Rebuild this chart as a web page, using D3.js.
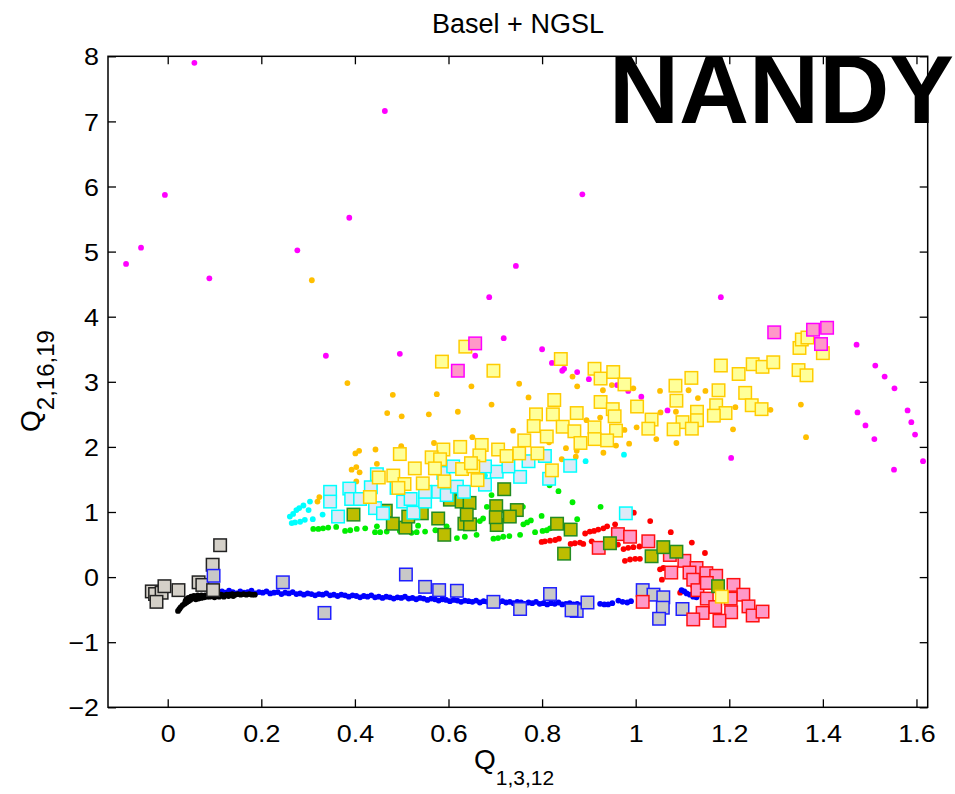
<!DOCTYPE html>
<html>
<head>
<meta charset="utf-8">
<script src="https://cdn.jsdelivr.net/npm/d3@7/dist/d3.min.js"></script>
<style>
  body { margin: 0; background: #fff; }
  text { font-family: "Liberation Sans", Arial, Helvetica, sans-serif; fill: #000; }
</style>
</head>
<body>
<svg id="chart" width="955" height="794"></svg>
<script>
// ---- axis limits and ticks ----
const xLimits = [-0.1276, 1.624];
const yLimits = [-2, 8];
const xTicks = [0, 0.2, 0.4, 0.6, 0.8, 1, 1.2, 1.4, 1.6];
const yTicks = [-2, -1, 0, 1, 2, 3, 4, 5, 6, 7, 8];
const titleText = "Basel + NGSL";
const stampText = "NANDY";

// ---- small dots ----
const magentaDots = [
  [0.057,7.90],[-0.089,4.81],[-0.057,5.06],[-0.006,5.87],[0.089,4.59],[0.277,5.02],[0.388,5.52],
  [0.464,7.16],[0.338,3.40],[0.496,3.43],[0.657,3.40],[0.886,5.88],[0.744,4.78],[0.687,4.30],
  [1.182,4.30],[0.718,3.67],[0.800,3.50],[0.821,3.29],[0.843,3.17],[0.847,3.20],[0.875,3.15],
  [0.900,3.04],[0.960,2.95],[0.984,2.86],[1.012,2.77],[1.068,2.56],[1.204,1.83],[1.472,3.57],
  [1.512,3.25],[1.532,3.08],[1.553,2.90],[1.474,2.53],[1.491,2.33],[1.510,2.12],[1.581,2.56],
  [1.589,2.38],[1.597,2.19],[1.552,1.65],[1.614,1.78]
];
const orangeDots = [
  [0.308,4.56],[0.384,2.98],[0.481,2.80],[0.575,2.81],[0.649,2.93],[0.751,2.97],[0.771,2.76],
  [0.692,2.65],[0.620,2.54],[0.558,2.50],[0.500,2.47],[0.469,2.52],[0.865,3.08],[0.875,2.93],
  [0.930,2.87],[0.949,2.95],[0.995,2.90],[1.052,2.86],[1.113,2.87],[1.133,2.75],[1.149,2.86],
  [1.213,2.61],[1.208,2.27],[1.288,2.57],[1.353,2.65],[1.364,2.15],[1.087,2.06],[1.044,2.12],
  [0.986,2.05],[0.931,1.91],[0.958,2.02],[0.851,1.98],[1.053,2.53],[1.086,2.54],[1.002,2.30],
  [0.976,2.26],[0.842,1.81],[0.738,2.25],[0.895,2.41],[0.924,2.45],[0.651,2.15],[0.569,2.06],
  [0.499,2.01],[0.444,1.96],[0.401,1.90],[0.409,1.94],[0.393,1.65],[0.403,1.69],[0.410,1.61],
  [0.447,1.74],[0.403,1.47],[0.324,1.23],[0.320,1.16],[0.815,2.07],[0.874,1.94],[0.872,1.85]
];
const cyanDots = [
  [0.261,0.93],[0.268,0.97],[0.275,1.03],[0.281,1.06],[0.290,1.10],[0.304,1.16],[0.301,1.03],
  [0.293,0.88],[0.283,0.85],[0.272,0.84],[0.265,0.83],[0.310,0.89],[0.331,0.96],[0.893,1.78],
  [0.975,1.88],[0.678,1.56]
];
const greenDots = [
  [0.311,0.74],[0.322,0.74],[0.332,0.75],[0.343,0.76],[0.360,0.77],[0.379,0.71],[0.390,0.72],
  [0.404,0.74],[0.422,0.75],[0.443,0.69],[0.454,0.69],[0.468,0.70],[0.447,0.78],[0.521,0.68],
  [0.532,0.69],[0.550,0.70],[0.535,0.79],[0.572,0.72],[0.596,0.78],[0.618,0.60],[0.635,0.62],
  [0.660,0.65],[0.667,0.86],[0.682,1.08],[0.692,1.26],[0.696,0.59],[0.706,0.60],[0.717,0.62],
  [0.730,0.63],[0.753,0.65],[0.760,0.81],[0.768,0.84],[0.776,0.87],[0.799,0.94],[0.785,0.69],
  [0.801,0.71],[0.810,0.72],[0.817,0.75],[0.835,1.32],[0.816,1.41],[0.865,1.15],[0.875,0.89],
  [0.925,1.08],[0.759,1.08],[0.674,0.90],[0.698,0.88],[0.496,0.71],[0.582,0.70]
];
const redDots = [
  [0.799,0.54],[0.806,0.55],[0.817,0.56],[0.828,0.57],[0.836,0.59],[0.861,0.51],[0.870,0.52],
  [0.881,0.53],[0.888,0.51],[0.906,0.55],[0.892,0.67],[0.902,0.70],[0.911,0.71],[0.920,0.73],
  [0.931,0.75],[0.939,0.78],[0.956,0.81],[0.996,0.99],[1.031,0.86],[1.075,0.69],[1.120,0.53],
  [1.148,0.37],[0.962,0.50],[0.974,0.43],[0.984,0.45],[0.995,0.46],[1.008,0.47],[0.977,0.25],
  [0.988,0.27],[0.999,0.28],[1.009,0.28],[1.052,0.12],[1.059,0.14],[1.123,-0.14],[1.144,-0.03],
  [1.095,-0.24],[1.056,-0.04]
];
const blueDots = [
  [0.116,-0.22],[0.123,-0.24],[0.131,-0.21],[0.139,-0.23],[0.147,-0.25],[0.155,-0.22],[0.163,-0.24],
  [0.171,-0.23],[0.179,-0.21],[0.187,-0.25],[0.195,-0.23],[0.203,-0.24],[0.211,-0.22],[0.219,-0.25],
  [0.227,-0.24],[0.235,-0.23],[0.243,-0.26],[0.251,-0.24],[0.259,-0.25],[0.267,-0.23],[0.275,-0.26],
  [0.283,-0.25],[0.291,-0.27],[0.299,-0.25],[0.307,-0.26],[0.315,-0.28],[0.323,-0.26],[0.331,-0.27],
  [0.339,-0.25],[0.347,-0.28],[0.355,-0.27],[0.363,-0.29],[0.371,-0.27],[0.379,-0.28],[0.387,-0.30],
  [0.395,-0.28],[0.403,-0.29],[0.411,-0.31],[0.419,-0.29],[0.427,-0.30],[0.435,-0.28],[0.443,-0.31],
  [0.451,-0.30],[0.459,-0.32],[0.467,-0.30],[0.475,-0.31],[0.483,-0.33],[0.491,-0.31],[0.499,-0.32],
  [0.507,-0.30],[0.515,-0.33],[0.523,-0.32],[0.531,-0.34],[0.539,-0.32],[0.547,-0.33],[0.555,-0.35],
  [0.563,-0.33],[0.571,-0.34],[0.579,-0.36],[0.587,-0.34],[0.595,-0.35],[0.603,-0.37],[0.611,-0.35],
  [0.619,-0.36],[0.627,-0.38],[0.635,-0.36],[0.643,-0.37],[0.651,-0.38],[0.659,-0.36],[0.667,-0.39],
  [0.675,-0.37],[0.683,-0.38],[0.691,-0.40],[0.699,-0.38],[0.707,-0.39],[0.715,-0.37],[0.723,-0.39],
  [0.731,-0.38],[0.739,-0.40],[0.747,-0.38],[0.755,-0.39],[0.763,-0.41],[0.771,-0.39],[0.779,-0.40],
  [0.787,-0.38],[0.795,-0.41],[0.803,-0.40],[0.811,-0.42],[0.819,-0.40],[0.827,-0.41],[0.835,-0.39],
  [0.843,-0.42],[0.851,-0.41],[0.859,-0.40],[0.867,-0.42],[0.875,-0.41],[0.883,-0.43],[0.891,-0.41],
  [0.899,-0.42],[0.924,-0.41],[0.933,-0.42],[0.941,-0.42],[0.950,-0.40],[0.963,-0.36],[0.972,-0.38],
  [0.982,-0.39],[0.990,-0.37],[1.098,-0.20],[1.104,-0.22],[1.109,-0.25],[1.116,-0.27],[1.123,-0.30],
  [1.130,-0.31]
];
const blackDots = [
  [0.022,-0.52],[0.025,-0.49],[0.028,-0.46],[0.032,-0.43],[0.036,-0.41],[0.040,-0.39],[0.044,-0.37],
  [0.048,-0.35],[0.052,-0.33],[0.044,-0.32],[0.040,-0.34],[0.038,-0.37],[0.050,-0.30],[0.056,-0.29],
  [0.060,-0.34],[0.066,-0.33],[0.072,-0.32],[0.078,-0.31],[0.084,-0.30],[0.090,-0.30],[0.064,-0.28],
  [0.072,-0.28],[0.080,-0.28],[0.096,-0.29],[0.102,-0.28],[0.108,-0.28],[0.114,-0.27],[0.120,-0.28],
  [0.126,-0.27],[0.132,-0.27],[0.138,-0.26],[0.144,-0.27],[0.150,-0.26],[0.156,-0.27],[0.162,-0.26],
  [0.168,-0.27],[0.174,-0.26],[0.180,-0.27],[0.186,-0.27],[0.100,-0.31],[0.110,-0.30],[0.120,-0.30],
  [0.130,-0.29],[0.140,-0.29]
];

// ---- square markers ----
const greySquaresBlackEdge = [
  [0.112,0.49],[0.096,0.19],[0.066,-0.08],[0.074,-0.12],[0.097,-0.20],[-0.034,-0.22],[-0.027,-0.26],
  [-0.013,-0.24],[-0.007,-0.14],[0.023,-0.20],[-0.024,-0.38]
];
const greySquaresBlueEdge = [
  [0.098,0.02],[0.246,-0.08],[0.335,-0.55],[0.509,0.04],[0.550,-0.15],[0.580,-0.20],[0.618,-0.21],
  [0.696,-0.38],[0.753,-0.49],[0.817,-0.26],[0.874,-0.52],[0.897,-0.39],[0.863,-0.51],[1.015,-0.20],
  [1.038,-0.27],[1.059,-0.31],[1.058,-0.47],[1.050,-0.64],[1.100,-0.49]
];
const pinkSquaresRedEdge = [
  [0.921,0.45],[0.962,0.66],[0.988,0.62],[1.027,0.55],[1.073,0.34],[1.104,0.25],[1.130,0.14],
  [1.076,0.07],[1.115,0.07],[1.151,0.06],[1.172,0.02],[1.123,-0.04],[1.132,-0.20],[1.209,-0.12],
  [1.230,-0.27],[1.152,-0.33],[1.170,-0.46],[1.203,-0.33],[1.204,-0.54],[1.143,-0.55],[1.123,-0.65],
  [1.179,-0.67],[1.241,-0.45],[1.250,-0.59],[1.271,-0.53],[1.015,-0.38],[1.152,-0.09]
];
const oliveSquares = [
  [0.397,0.96],[0.481,0.82],[0.508,0.76],[0.543,0.98],[0.466,1.02],[0.514,0.93],[0.578,0.90],
  [0.591,0.65],[0.603,1.19],[0.628,1.16],[0.645,1.14],[0.634,0.82],[0.646,0.81],[0.639,0.96],
  [0.703,0.80],[0.702,1.09],[0.719,1.35],[0.746,1.03],[0.832,0.82],[0.861,0.73],[0.847,0.36],
  [0.945,0.52],[1.034,0.32],[1.059,0.46],[1.087,0.39],[1.176,-0.14],[0.701,0.92],[0.731,0.93]
];
const cyanSquares = [
  [0.347,1.31],[0.347,1.16],[0.364,0.93],[0.388,1.36],[0.392,1.20],[0.411,1.20],[0.447,1.58],
  [0.434,1.38],[0.443,1.06],[0.460,0.98],[0.489,1.37],[0.503,1.16],[0.519,1.20],[0.525,0.99],
  [0.550,1.16],[0.550,1.31],[0.578,1.31],[0.596,1.26],[0.618,1.39],[0.633,1.31],[0.589,1.60],
  [0.610,1.70],[0.678,1.42],[0.703,1.62],[0.678,1.70],[0.753,1.54],[0.815,1.51],[0.860,1.71],
  [0.771,1.78],[0.806,1.86],[0.728,1.70],[0.979,0.98]
];
const yellowSquares = [
  [0.586,3.31],[0.636,3.54],[0.696,3.17],[0.840,3.35],[0.912,3.20],[0.925,3.05],[0.952,3.15],
  [0.976,2.96],[1.085,2.94],[1.119,3.06],[1.087,2.71],[1.182,3.25],[1.220,3.12],[1.250,3.27],
  [1.271,3.23],[1.294,3.30],[1.177,2.87],[1.234,2.83],[1.248,2.64],[1.269,2.58],[1.172,2.64],
  [1.192,2.52],[1.167,2.48],[1.131,2.54],[1.131,2.41],[1.100,2.38],[1.081,2.27],[1.120,2.28],
  [1.034,2.42],[1.027,2.28],[1.348,3.18],[1.365,3.10],[1.350,3.52],[1.355,3.65],[1.367,3.68],
  [1.400,3.44],[0.826,2.72],[0.787,2.50],[0.823,2.50],[0.874,2.52],[0.925,2.69],[0.951,2.58],
  [0.955,2.47],[1.003,2.62],[0.782,2.32],[0.844,2.31],[0.869,2.24],[0.912,2.30],[0.958,2.25],
  [0.762,2.10],[0.810,2.16],[0.882,2.06],[0.912,2.12],[0.939,2.10],[0.706,1.96],[0.671,2.03],
  [0.751,1.90],[0.790,1.90],[0.724,1.86],[0.666,1.87],[0.821,1.64],[0.625,2.00],[0.589,1.96],
  [0.496,1.89],[0.564,1.84],[0.582,1.81],[0.528,1.67],[0.571,1.67],[0.629,1.66],[0.653,1.70],
  [0.451,1.53],[0.482,1.56],[0.506,1.43],[0.493,1.37],[0.432,1.23],[0.545,1.44],[0.591,1.47],
  [0.662,1.49],[0.648,1.75]
];
const pinkSquaresMagentaEdge = [
  [0.620,3.17],[0.657,3.59],[1.296,3.76],[1.379,3.80],[1.409,3.83],[1.396,3.58]
];
const yellowSquareLone = [[1.184,-0.30]];

// ---- layout ----
const svg = d3.select("#chart");
const plot = { left: 108, right: 927.7, top: 56.3, bottom: 707.3 };
const x = d3.scaleLinear().domain(xLimits).range([plot.left, plot.right]);
const y = d3.scaleLinear().domain(yLimits).range([plot.bottom, plot.top]);

svg.append("rect").attr("width", 955).attr("height", 794).attr("fill", "#fff");

const marks = svg.append("g");

function drawDots(data, color) {
  marks.append("g").selectAll("circle").data(data).join("circle")
    .attr("cx", d => x(d[0])).attr("cy", d => y(d[1]))
    .attr("r", 2.9).attr("fill", color);
}
function drawSquares(data, fill, edge) {
  const s = 12.5;
  marks.append("g").selectAll("rect").data(data).join("rect")
    .attr("x", d => x(d[0]) - s / 2).attr("y", d => y(d[1]) - s / 2)
    .attr("width", s).attr("height", s)
    .attr("fill", fill).attr("stroke", edge).attr("stroke-width", 1.5);
}

drawDots(magentaDots, "#ff00ff");
drawDots(orangeDots, "#ffbf00");
drawDots(cyanDots, "#00ffff");
drawDots(greenDots, "#00ee00");
drawDots(redDots, "#ff0000");
drawDots(blueDots, "#0000ff");
drawDots(blackDots, "#000000");

drawSquares(greySquaresBlackEdge, "#d4d0c8", "#222222");
drawSquares(greySquaresBlueEdge, "#c8c8c8", "#2020ff");
drawSquares(pinkSquaresRedEdge, "#ff99c8", "#ff1010");
drawSquares(oliveSquares, "#bdbd00", "#228b22");
drawSquares(cyanSquares, "#dce9f7", "#00ffff");
drawSquares(yellowSquares, "#ffff99", "#ffcc00");
drawSquares(pinkSquaresMagentaEdge, "#ff99c8", "#ff00ff");
drawSquares(yellowSquareLone, "#ffff99", "#ffcc00");

// ---- axes: box with inward ticks on every side ----
const tickLen = 8;
const fmtX = d => d3.format("~g")(d);
const fmtY = d => (d < 0 ? "\u2212" + Math.abs(d) : String(d));
const labelStretch = 1.12;

const axB = svg.append("g").attr("transform", `translate(0,${plot.bottom})`)
  .call(d3.axisBottom(x).tickValues(xTicks).tickSize(-tickLen).tickSizeOuter(0).tickFormat(fmtX));
const axT = svg.append("g").attr("transform", `translate(0,${plot.top})`)
  .call(d3.axisTop(x).tickValues(xTicks).tickSize(-tickLen).tickSizeOuter(0).tickFormat(""));
const axL = svg.append("g").attr("transform", `translate(${plot.left},0)`)
  .call(d3.axisLeft(y).tickValues(yTicks).tickSize(-tickLen).tickSizeOuter(0).tickFormat(fmtY));
const axR = svg.append("g").attr("transform", `translate(${plot.right},0)`)
  .call(d3.axisRight(y).tickValues(yTicks).tickSize(-tickLen).tickSizeOuter(0).tickFormat(""));

[axB, axT, axL, axR].forEach(a => {
  a.select(".domain").remove();
  a.selectAll(".tick line").attr("stroke", "#000").attr("stroke-width", 1.3);
});
axB.selectAll(".tick text")
  .attr("y", 35).attr("dy", 0)
  .attr("transform", `scale(${labelStretch},1)`)
  .style("font-size", "24px").style("font-family", '"Liberation Sans", Arial, sans-serif').attr("fill", "#000");
axL.selectAll(".tick text")
  .attr("x", -9 / labelStretch).attr("dy", "0.36em")
  .attr("transform", `scale(${labelStretch},1)`)
  .style("font-size", "24px").style("font-family", '"Liberation Sans", Arial, sans-serif').attr("fill", "#000");

svg.append("rect")
  .attr("x", plot.left).attr("y", plot.top)
  .attr("width", plot.right - plot.left).attr("height", plot.bottom - plot.top)
  .attr("fill", "none").attr("stroke", "#000").attr("stroke-width", 1.5);

// ---- titles and labels ----
svg.append("text").attr("x", 518).attr("y", 33).attr("text-anchor", "middle")
  .style("font-size", "27px").text(titleText);

const xl = svg.append("text").attr("x", 474).attr("y", 769).style("font-size", "28px");
xl.append("tspan").text("Q");
xl.append("tspan").attr("dy", 16).style("font-size", "21px").text("1,3,12");

const yl = svg.append("text").attr("transform", "translate(40,432) rotate(-90)").style("font-size", "28px");
yl.append("tspan").text("Q");
yl.append("tspan").attr("dy", 14).style("font-size", "24px").text("2,16,19");

svg.append("text").attr("x", 609).attr("y", 123)
  .style("font-size", "97px").style("font-weight", "bold").text(stampText);
</script>
</body>
</html>
